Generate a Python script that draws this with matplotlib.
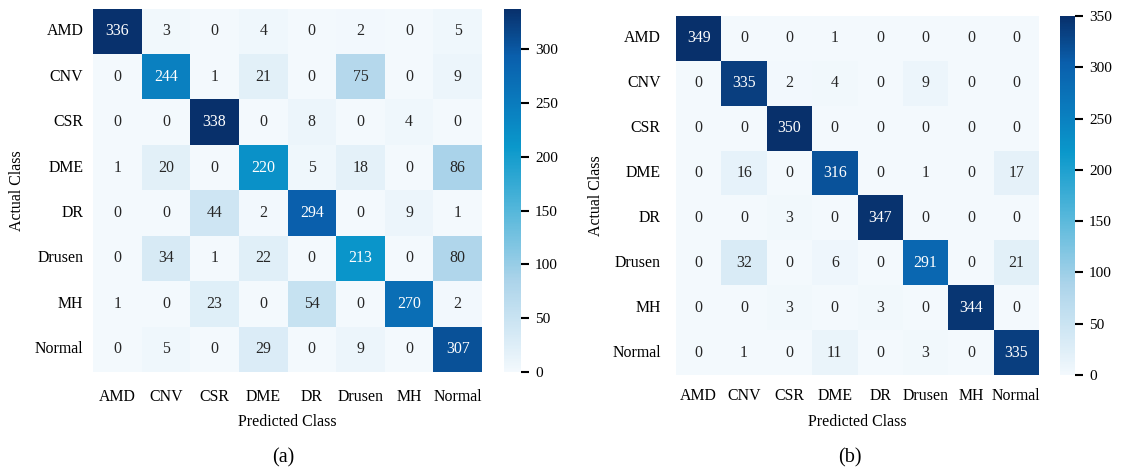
import matplotlib
matplotlib.use("Agg")
import matplotlib.pyplot as plt
from matplotlib.colors import LinearSegmentedColormap
import numpy as np
import seaborn as sns

plt.rcParams['font.family'] = ['Liberation Serif', 'DejaVu Serif']

classes = ["AMD", "CNV", "CSR", "DME", "DR", "Drusen", "MH", "Normal"]

cm_a = np.array([
    [336, 3, 0, 4, 0, 2, 0, 5],
    [0, 244, 1, 21, 0, 75, 0, 9],
    [0, 0, 338, 0, 8, 0, 4, 0],
    [1, 20, 0, 220, 5, 18, 0, 86],
    [0, 0, 44, 2, 294, 0, 9, 1],
    [0, 34, 1, 22, 0, 213, 0, 80],
    [1, 0, 23, 0, 54, 0, 270, 2],
    [0, 5, 0, 29, 0, 9, 0, 307],
])

cm_b = np.array([
    [349, 0, 0, 1, 0, 0, 0, 0],
    [0, 335, 2, 4, 0, 9, 0, 0],
    [0, 0, 350, 0, 0, 0, 0, 0],
    [0, 16, 0, 316, 0, 1, 0, 17],
    [0, 0, 3, 0, 347, 0, 0, 0],
    [0, 32, 0, 6, 0, 291, 0, 21],
    [0, 0, 3, 0, 3, 0, 344, 0],
    [0, 1, 0, 11, 0, 3, 0, 335],
])

# white -> light blue -> cyan -> navy, as in the figure
cmap = LinearSegmentedColormap.from_list("cyanblues", [
    (0.00, "#f3f9fd"),
    (0.05, "#e4f1f9"),
    (0.25, "#acd4ea"),
    (0.45, "#52b6da"),
    (0.62, "#0a98cb"),
    (0.72, "#0a80c0"),
    (0.87, "#0a5fac"),
    (1.00, "#08306b"),
])

W, H = 1121, 470
fig = plt.figure(figsize=(W / 100, H / 100), dpi=100)


def px(x0, y0, x1, y1):
    return [x0 / W, 1 - y1 / H, (x1 - x0) / W, (y1 - y0) / H]


# heatmap box, colorbar box, tag, tag x, ylabel x, x tick pad, y tick pad
panels = [
    (cm_a, (93, 8.6, 482, 372), (504, 8.6, 521, 372), "(a)", 283, 17, 12, 7),
    (cm_b, (676, 16, 1039, 375), (1060, 16, 1075, 375), "(b)", 850, 596, 9.5, 11),
]

fs = 11.4
for cm, box, cbox, tag, tag_x, ylab_x, xpad, ypad in panels:
    ax = fig.add_axes(px(*box))
    cax = fig.add_axes(px(*cbox))
    sns.heatmap(cm, annot=True, fmt="d", cmap=cmap, ax=ax, cbar_ax=cax,
                xticklabels=classes, yticklabels=classes,
                annot_kws={"fontsize": fs})
    ax.tick_params(axis="x", length=0, pad=xpad, labelsize=fs, rotation=0)
    ax.tick_params(axis="y", length=0, pad=ypad, labelsize=fs, rotation=0)
    bw = box[2] - box[0]
    bh = box[3] - box[1]
    ax.set_xlabel("Predicted Class", fontsize=fs, va="center")
    ax.xaxis.set_label_coords(0.5, (box[3] - 422) / bh)
    ax.set_ylabel("Actual Class", fontsize=fs, va="center")
    ax.yaxis.set_label_coords((ylab_x - box[0]) / bw, 0.5)
    cax.tick_params(labelsize=11, length=6, width=1.5, pad=4)
    fig.text(tag_x / W, 1 - 458 / H, tag, fontsize=14.5, ha="center", va="center")

fig.savefig("out.png", dpi=100)
